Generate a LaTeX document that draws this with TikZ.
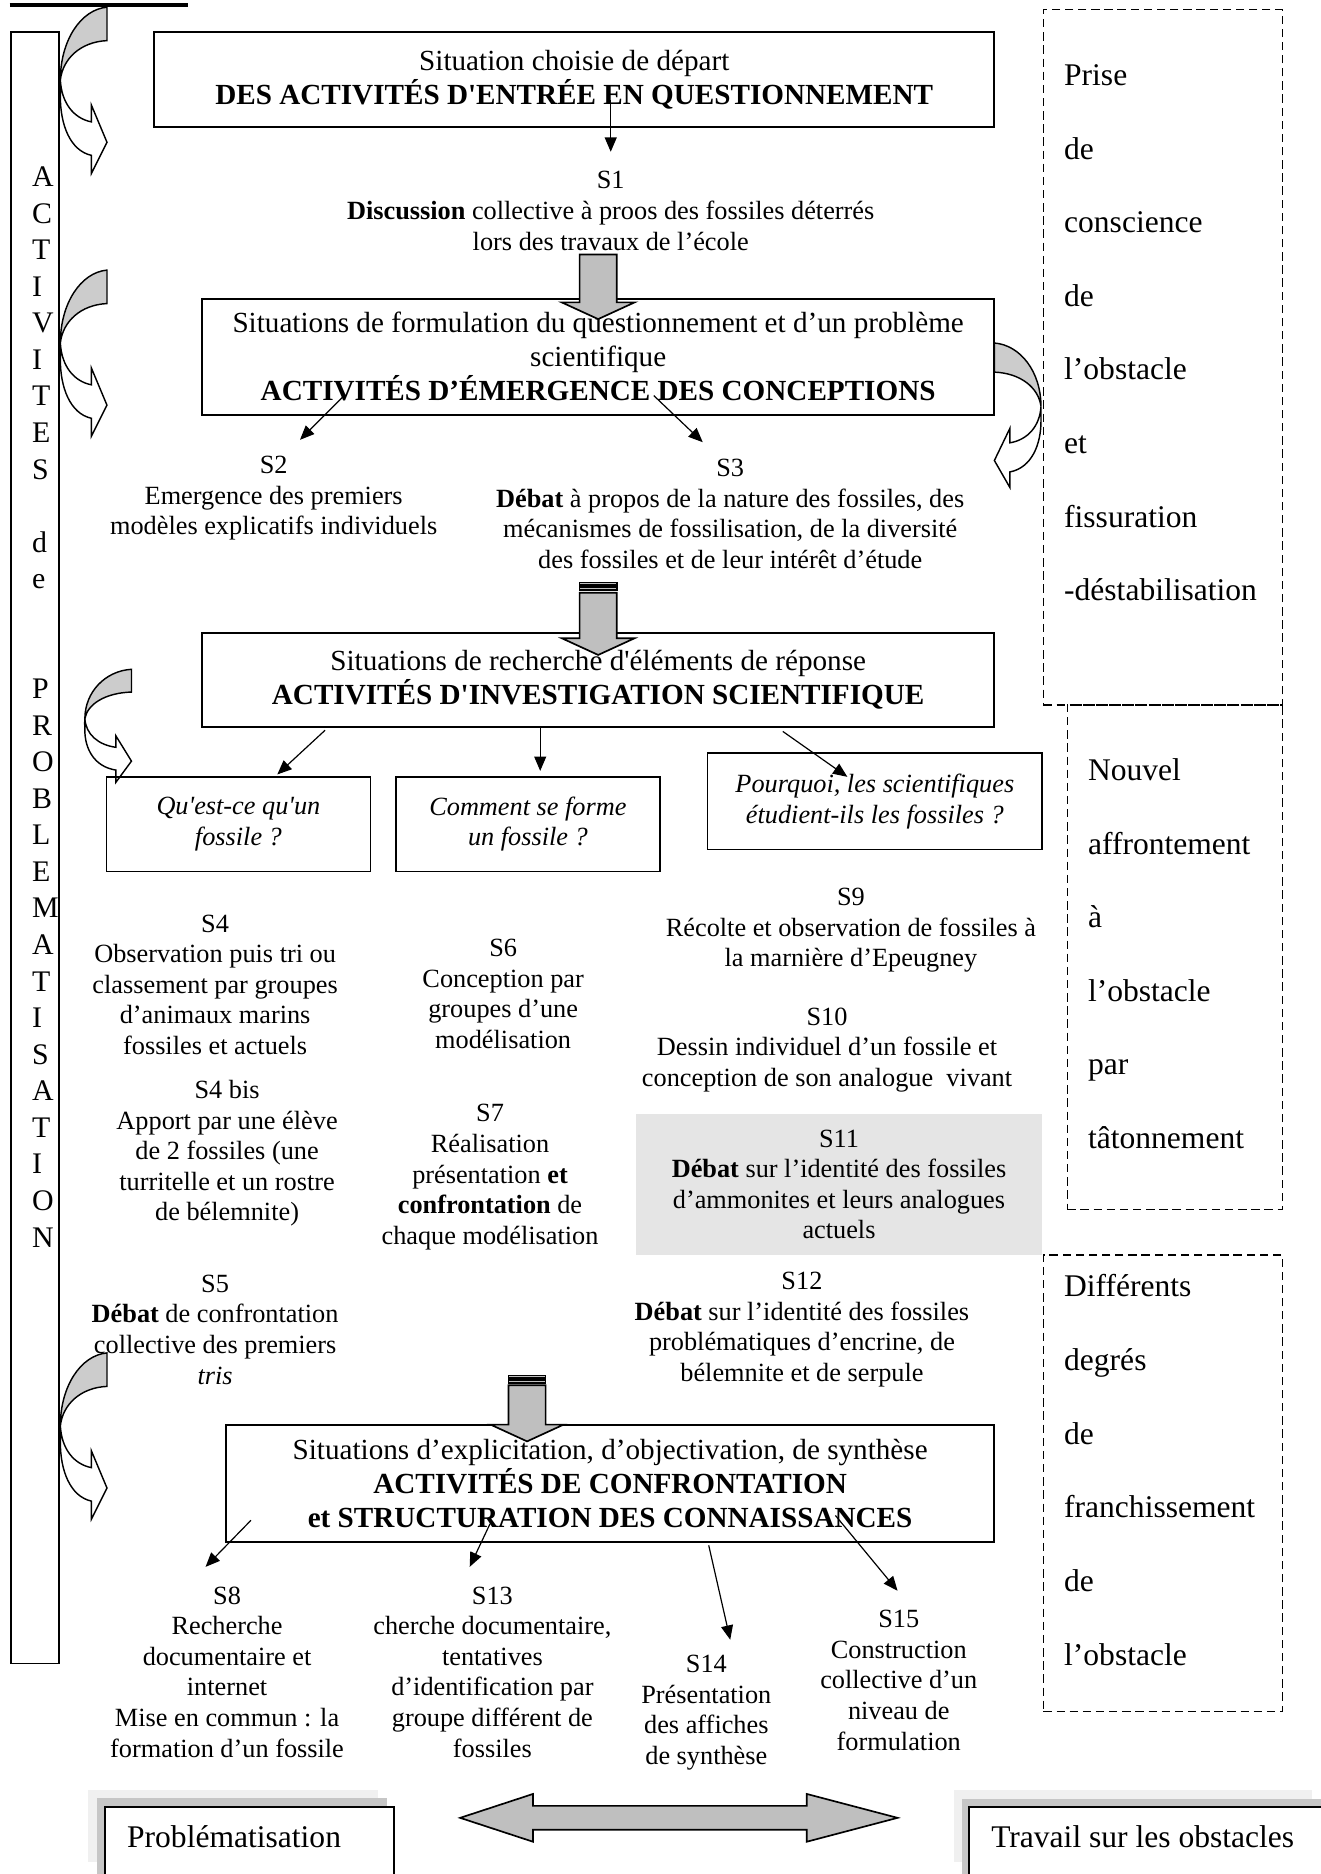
\documentclass[tikz,border=0pt]{standalone}
\usepackage{fontspec}
\setmainfont{Liberation Serif}
\usetikzlibrary{arrows.meta, positioning}
\newcommand{\bodysize}{\fontsize{11}{12.8}\selectfont}
\newcommand{\titlesize}{\fontsize{12.2}{14.2}\selectfont}
\newcommand{\sidesize}{\fontsize{13.2}{30.8}\selectfont}
\newcommand{\lettersize}{\fontsize{12.5}{15.3}\selectfont}
\newcommand{\footsize}{\fontsize{13.2}{16}\selectfont}

\tikzset{
  pics/curvarr/.style={code={
    \filldraw[fill=gray!40, line width=0.6pt]
      (0,0) .. controls (-22,2) and (-39,28) .. (-39,61)
      .. controls (-37,43) and (-22,29) .. (0,28) -- cycle;
    \filldraw[fill=white, line width=0.6pt]
      (-39,61) .. controls (-38,80) and (-28,93) .. (-13,96)
      -- (-13,82) -- (0,113) -- (-13,139) -- (-13,124)
      .. controls (-31,120) and (-39,98) .. (-39,75) -- cycle;
  }},
  pics/blockdown/.style={code={
    \filldraw[fill=gray!50, line width=0.7pt]
      (-15.5,-#1) -- (15.5,-#1) -- (15.5,0) -- (30.5,0) -- (0,14)
      -- (-30.5,0) -- (-15.5,0) -- cycle;
  }},
  pics/stripes/.style={code={
    \filldraw[fill=gray!50, line width=0.7pt] (-15.5,0) rectangle (15.5,2);
    \filldraw[fill=gray!50, line width=0.7pt] (-15.5,3.5) rectangle (15.5,6);
  }}
}

\begin{document}
\begin{tikzpicture}[
  x=0.5pt, y=-0.5pt,
  titlebox/.style={
    draw, line width=0.8pt, fill=white,
    font=\titlesize, align=center, inner sep=0pt
  },
  qbox/.style={
    draw, line width=0.6pt,
    font=\bodysize\itshape, align=center, inner sep=0pt,
    minimum width=110.5pt, minimum height=39.5pt
  },
  stext/.style={font=\bodysize, align=center, inner sep=0pt},
  graybox/.style={fill=gray!20, font=\bodysize, align=center, inner sep=0pt},
  obsbox/.style={draw, line width=0.6pt, dash pattern=on 3.5pt off 2pt},
  sidetext/.style={font=\sidesize, align=left, inner sep=0pt},
  footbox/.style={draw, line width=0.8pt, fill=white},
  arr/.style={-{Triangle[length=6pt, width=5pt]}, line width=0.5pt}
]
\useasboundingbox (0,0) rectangle (1105,1568);

%% ═══ COLONNE PROBLÉMATISATION ═══
\draw[line width=1.7pt] (8,3.8) -- (157,3.8);
\node[draw, line width=0.6pt, minimum width=20.1pt, minimum height=682.6pt] (colonne) at (29.3,709.4) {};
\node[font=\lettersize, align=left, inner sep=0pt, anchor=west] (lettres) at (26.5,591.5)
  {A\\C\\T\\I\\V\\I\\T\\E\\S\\\mbox{}\\d\\e\\\mbox{}\\\mbox{}\\P\\R\\O\\B\\L\\E\\M\\A\\T\\I\\S\\A\\T\\I\\O\\N};

\pic at (89.5,6) {curvarr};
\pic at (89.5,226) {curvarr};
\pic[yscale=0.68] at (110,560) {curvarr};
\pic at (89.5,1132) {curvarr};

%% ═══ ENTRÉE EN QUESTIONNEMENT ═══
\node[titlebox, minimum width=351.5pt, minimum height=39.5pt] (entree) at (480.5,66.5)
  {Situation choisie de départ\\
   \textbf{DES ACTIVITÉS D\textquotesingle ENTRÉE EN QUESTIONNEMENT}};

\node[stext] (s1) at (511,176.5)
  {S1\\\textbf{Discussion} collective à proos des fossiles déterrés\\lors des travaux de l’école};
\coordinate (e1a) at (511,84);
\coordinate (e1b) at (511,127);
\draw[arr] (e1a) -- (e1b);

%% ═══ ÉMERGENCE DES CONCEPTIONS ═══
\node[titlebox, minimum width=331.5pt, minimum height=48.5pt] (emergence) at (500.5,298.5)
  {Situations de formulation du questionnement et d’un problème\\scientifique\\
   \textbf{ACTIVITÉS D’ÉMERGENCE DES CONCEPTIONS}};
\pic at (500.5,253) {blockdown=40};
\pic[xscale=-1, yscale=0.87] at (832,287) {curvarr};

\node[stext] (s2) at (229,417)
  {S2\\Emergence des premiers\\modèles explicatifs individuels};
\node[stext] (s3) at (611,430)
  {S3\\\textbf{Débat} à propos de la nature des fossiles, des\\
   mécanismes de fossilisation, de la diversité\\
   des fossiles et de leur intérêt d’étude};
\coordinate (e2a) at (288,331);  \coordinate (e2b) at (251,368);
\coordinate (e3a) at (547,331);  \coordinate (e3b) at (588,370);
\draw[arr] (e2a) -- (e2b);
\draw[arr] (e3a) -- (e3b);

%% ═══ INVESTIGATION SCIENTIFIQUE ═══
\node[titlebox, minimum width=331.5pt, minimum height=39pt] (investigation) at (500.5,569)
  {Situations de recherche d\textquotesingle éléments de réponse\\
   \textbf{ACTIVITÉS D\textquotesingle INVESTIGATION SCIENTIFIQUE}};
\pic at (500.5,487.5) {stripes};
\pic at (500.5,534) {blockdown=38};

\node[qbox] (q1) at (199.5,689.5) {Qu\textquotesingle est-ce qu\textquotesingle un\\fossile ?};
\node[qbox, right=10pt of q1] (q2) {Comment se forme\\un fossile ?};
\node[qbox, minimum width=140pt, minimum height=40.5pt] (q3) at (732,670.5)
  {Pourquoi, les scientifiques\\étudient-ils les fossiles ?};
\coordinate (e4a) at (272,611);  \coordinate (e4b) at (232,648);
\coordinate (e5a) at (452,608);  \coordinate (e5b) at (452,645);
\coordinate (e6a) at (655,612);  \coordinate (e6b) at (709,650);
\draw[arr] (e4a) -- (e4b);
\draw[arr] (e5a) -- (e5b);
\draw[arr] (e6a) -- (e6b);

\node[stext] (s4) at (180,824)
  {S4\\Observation puis tri ou\\classement par groupes\\d’animaux marins\\fossiles et actuels};
\node[stext] (s4b) at (190,965)
  {S4 bis\\Apport par une élève\\de 2 fossiles (une\\turritelle et un rostre\\de bélemnite)};
\node[stext] (s5) at (180,1112.5)
  {S5\\\textbf{Débat} de confrontation\\collective des premiers\\\textit{tris}};

\node[stext] (s6) at (421,831.5)
  {S6\\Conception par\\groupes d’une\\modélisation};
\node[stext] (s7) at (410,985)
  {S7\\Réalisation\\présentation \textbf{et}\\\textbf{confrontation} de\\chaque modélisation};

\node[stext] (s9) at (712,778.5)
  {S9\\Récolte et observation de fossiles à\\la marnière d’Epeugney};
\node[stext] (s10) at (692,878.5)
  {S10\\Dessin individuel d’un fossile et\\conception de son analogue\ \ vivant};
\node[graybox, minimum width=170pt, minimum height=59pt] (s11) at (702,991)
  {S11\\\textbf{Débat} sur l’identité des fossiles\\d’ammonites et leurs analogues\\actuels};
\node[stext] (s12) at (671,1112.5)
  {S12\\\textbf{Débat} sur l’identité des fossiles\\problématiques d’encrine, de\\bélemnite et de serpule};

%% ═══ CONFRONTATION ET STRUCTURATION ═══
\node[titlebox, minimum width=321.5pt, minimum height=49pt] (structuration) at (510.5,1241)
  {Situations d’explicitation, d’objectivation, de synthèse\\
   \textbf{ACTIVITÉS DE CONFRONTATION}\\
   \textbf{et STRUCTURATION DES CONNAISSANCES}};
\pic at (441,1151) {stripes};
\pic at (441,1192) {blockdown=33};

\node[stext] (s8) at (190,1399)
  {S8\\Recherche\\documentaire et\\internet\\Mise en commun : la\\formation d’un fossile};
\node[stext] (s13) at (412,1399)
  {S13\\cherche documentaire,\\tentatives\\d’identification par\\groupe différent de\\fossiles};
\node[stext] (s14) at (591,1433)
  {S14\\Présentation\\des affiches\\de synthèse};
\node[stext] (s15) at (752,1406)
  {S15\\Construction\\collective d’un\\niveau de\\formulation};
\coordinate (e7a) at (210,1272);   \coordinate (e7b) at (172,1311);
\coordinate (e8a) at (410,1275);   \coordinate (e8b) at (393,1311);
\coordinate (e9a) at (593,1293);   \coordinate (e9b) at (611,1372);
\coordinate (e10a) at (699,1268);  \coordinate (e10b) at (751,1331);
\draw[arr] (e7a) -- (e7b);
\draw[arr] (e8a) -- (e8b);
\draw[arr] (e9a) -- (e9b);
\draw[arr] (e10a) -- (e10b);

%% ═══ TRAVAIL SUR L'OBSTACLE ═══
\node[obsbox, minimum width=100pt, minimum height=291pt] (obs1) at (973,299) {};
\node[sidetext, anchor=west] (prise) at (890,278.5)
  {Prise\\de\\conscience\\de\\l’obstacle\\et\\fissuration\\-déstabilisation};
\node[obsbox, minimum width=90pt, minimum height=211pt] (obs2) at (983,801) {};
\node[sidetext, anchor=west] (affront) at (910,798)
  {Nouvel\\affrontement\\à\\l’obstacle\\par\\tâtonnement};
\node[obsbox, minimum width=100pt, minimum height=191pt] (obs3) at (973,1241) {};
\node[sidetext, anchor=west] (franchi) at (890,1230)
  {Différents\\degrés\\de\\franchissement\\de\\l’obstacle};

%% ═══ BAS DE PAGE ═══
\fill[gray!12] (74,1498) rectangle (316,1558);
\fill[gray!45] (81,1504) rectangle (324,1580);
\draw[footbox] (88,1512) rectangle (330,1600);
\node[font=\footsize, inner sep=0pt, anchor=west] (probl) at (106,1537) {Problématisation};

\fill[gray!12] (798,1498) rectangle (1098,1558);
\fill[gray!45] (805,1505) rectangle (1120,1580);
\draw[footbox] (811,1512) rectangle (1120,1600);
\node[font=\footsize, inner sep=0pt, anchor=west] (travail) at (829,1537) {Travail sur les obstacles};

\filldraw[fill=gray!50, line width=0.7pt]
  (385,1521) -- (446,1501) -- (446,1511) -- (675,1511) -- (675,1501) -- (751,1521)
  -- (675,1541) -- (675,1531) -- (446,1531) -- (446,1541) -- cycle;

\end{tikzpicture}
\end{document}
